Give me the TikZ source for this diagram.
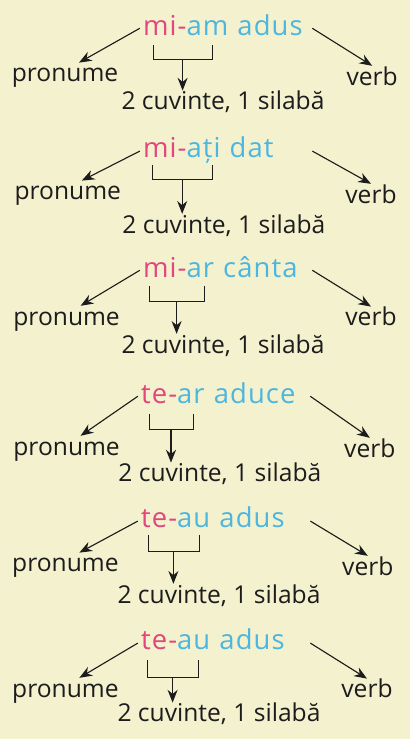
\documentclass[tikz,border=0pt]{standalone}
\usepackage{fontspec}
\setmainfont{Open Sans}
\newfontfamily\spacedfont[LetterSpace=4]{Open Sans}
\usepackage{xcolor}
\usepackage{tikz}
\usetikzlibrary{arrows.meta,positioning,calc}
\definecolor{SylPink}{HTML}{E2467D}
\definecolor{SylCyan}{HTML}{4CB6DE}
\definecolor{SylPaper}{HTML}{F4F1CF}
\definecolor{SylInk}{HTML}{1C1C1C}

\begin{document}
\begin{tikzpicture}[font=\fontsize{17.5}{20}\selectfont, >={Stealth[length=0.32cm,width=0.25cm]},
  word/.style={anchor=base west, inner xsep=0.075cm, inner ysep=0pt, text height=0.34cm, text depth=0pt, text width=4.15cm, align=left, font=\spacedfont\fontsize{19.5}{22}\selectfont},
  lbl/.style={anchor=base, inner xsep=0.05cm, inner ysep=0.075cm, text height=0.4cm, text depth=0.1cm, text=SylInk},
  arr/.style={->, line width=0.8pt, SylInk},
  brk/.style={line width=0.7pt, SylInk}]
\fill[SylPaper] (-5.125,-9.2375) rectangle (5.125,9.2375);

% mi-am adus
\node[word] (t1) at (-1.63,8.36) {{\color{SylPink}mi-}{\color{SylCyan}am adus}};
\node[lbl] (p1) at (-3.50,7.19) {pronume};
\node[lbl] (v1) at (4.18,7.11) {verb};
\node[lbl] (c1) at (0.45,6.49) {2 cuvinte, 1 silabă};
\draw[arr] (t1.west) -- ($(p1.north)+(0.35,0)$);
\draw[arr] (t1.east) -- (v1.north);
\draw[brk] (-1.30,8.11) |- (0.175,7.74) -- (0.175,8.11);
\coordinate (b1) at (-0.56,7.74);
\draw[arr] (b1) -- (b1 |- c1.north);

% mi-ati dat
\node[word] (t2) at (-1.63,5.29) {{\color{SylPink}mi-}{\color{SylCyan}ați dat}};
\node[lbl] (p2) at (-3.43,4.24) {pronume};
\node[lbl] (v2) at (4.15,4.16) {verb};
\node[lbl] (c2) at (0.47,3.41) {2 cuvinte, 1 silabă};
\draw[arr] (t2.west) -- ($(p2.north)+(0.35,0)$);
\draw[arr] (t2.east) -- (v2.north);
\draw[brk] (-1.32,5.11) |- (0.175,4.74) -- (0.175,5.11);
\coordinate (b2) at (-0.57,4.74);
\draw[arr] (b2) -- (b2 |- c2.north);

% mi-ar canta
\node[word] (t3) at (-1.63,2.31) {{\color{SylPink}mi-}{\color{SylCyan}ar cânta}};
\node[lbl] (p3) at (-3.46,1.11) {pronume};
\node[lbl] (v3) at (4.15,1.09) {verb};
\node[lbl] (c3) at (0.45,0.41) {2 cuvinte, 1 silabă};
\draw[arr] (t3.west) -- ($(p3.north)+(0.35,0)$);
\draw[arr] (t3.east) -- (v3.north);
\draw[brk] (-1.40,2.09) |- (-0.025,1.69) -- (-0.025,2.09);
\coordinate (b3) at (-0.71,1.69);
\draw[arr] (b3) -- (b3 |- c3.north);

% te-ar aduce
\node[word] (t4) at (-1.68,-0.84) {{\color{SylPink}te-}{\color{SylCyan}ar aduce}};
\node[lbl] (p4) at (-3.46,-2.14) {pronume};
\node[lbl] (v4) at (4.12,-2.19) {verb};
\node[lbl] (c4) at (0.37,-2.81) {2 cuvinte, 1 silabă};
\draw[arr] (t4.west) -- ($(p4.north)+(0.35,0)$);
\draw[arr] (t4.east) -- (v4.north);
\draw[brk] (-1.40,-1.11) |- (-0.30,-1.51) -- (-0.30,-1.11);
\coordinate (b4) at (-0.85,-1.51);
\draw[arr] (b4) -- (b4 |- c4.north);

% te-au adus
\node[word] (t5) at (-1.68,-3.96) {{\color{SylPink}te-}{\color{SylCyan}au adus}};
\node[lbl] (p5) at (-3.49,-5.06) {pronume};
\node[lbl] (v5) at (4.07,-5.14) {verb};
\node[lbl] (c5) at (0.35,-5.84) {2 cuvinte, 1 silabă};
\draw[arr] (t5.west) -- ($(p5.north)+(0.35,0)$);
\draw[arr] (t5.east) -- (v5.north);
\draw[brk] (-1.42,-4.14) |- (-0.15,-4.56) -- (-0.15,-4.14);
\coordinate (b5) at (-0.79,-4.56);
\draw[arr] (b5) -- (b5 |- c5.north);

% te-au adus (again)
\node[word] (t6) at (-1.68,-7.01) {{\color{SylPink}te-}{\color{SylCyan}au adus}};
\node[lbl] (p6) at (-3.49,-8.19) {pronume};
\node[lbl] (v6) at (4.05,-8.21) {verb};
\node[lbl] (c6) at (0.35,-8.81) {2 cuvinte, 1 silabă};
\draw[arr] (t6.west) -- ($(p6.north)+(0.35,0)$);
\draw[arr] (t6.east) -- (v6.north);
\draw[brk] (-1.45,-7.26) |- (-0.175,-7.69) -- (-0.175,-7.26);
\coordinate (b6) at (-0.81,-7.69);
\draw[arr] (b6) -- (b6 |- c6.north);
\end{tikzpicture}
\end{document}
